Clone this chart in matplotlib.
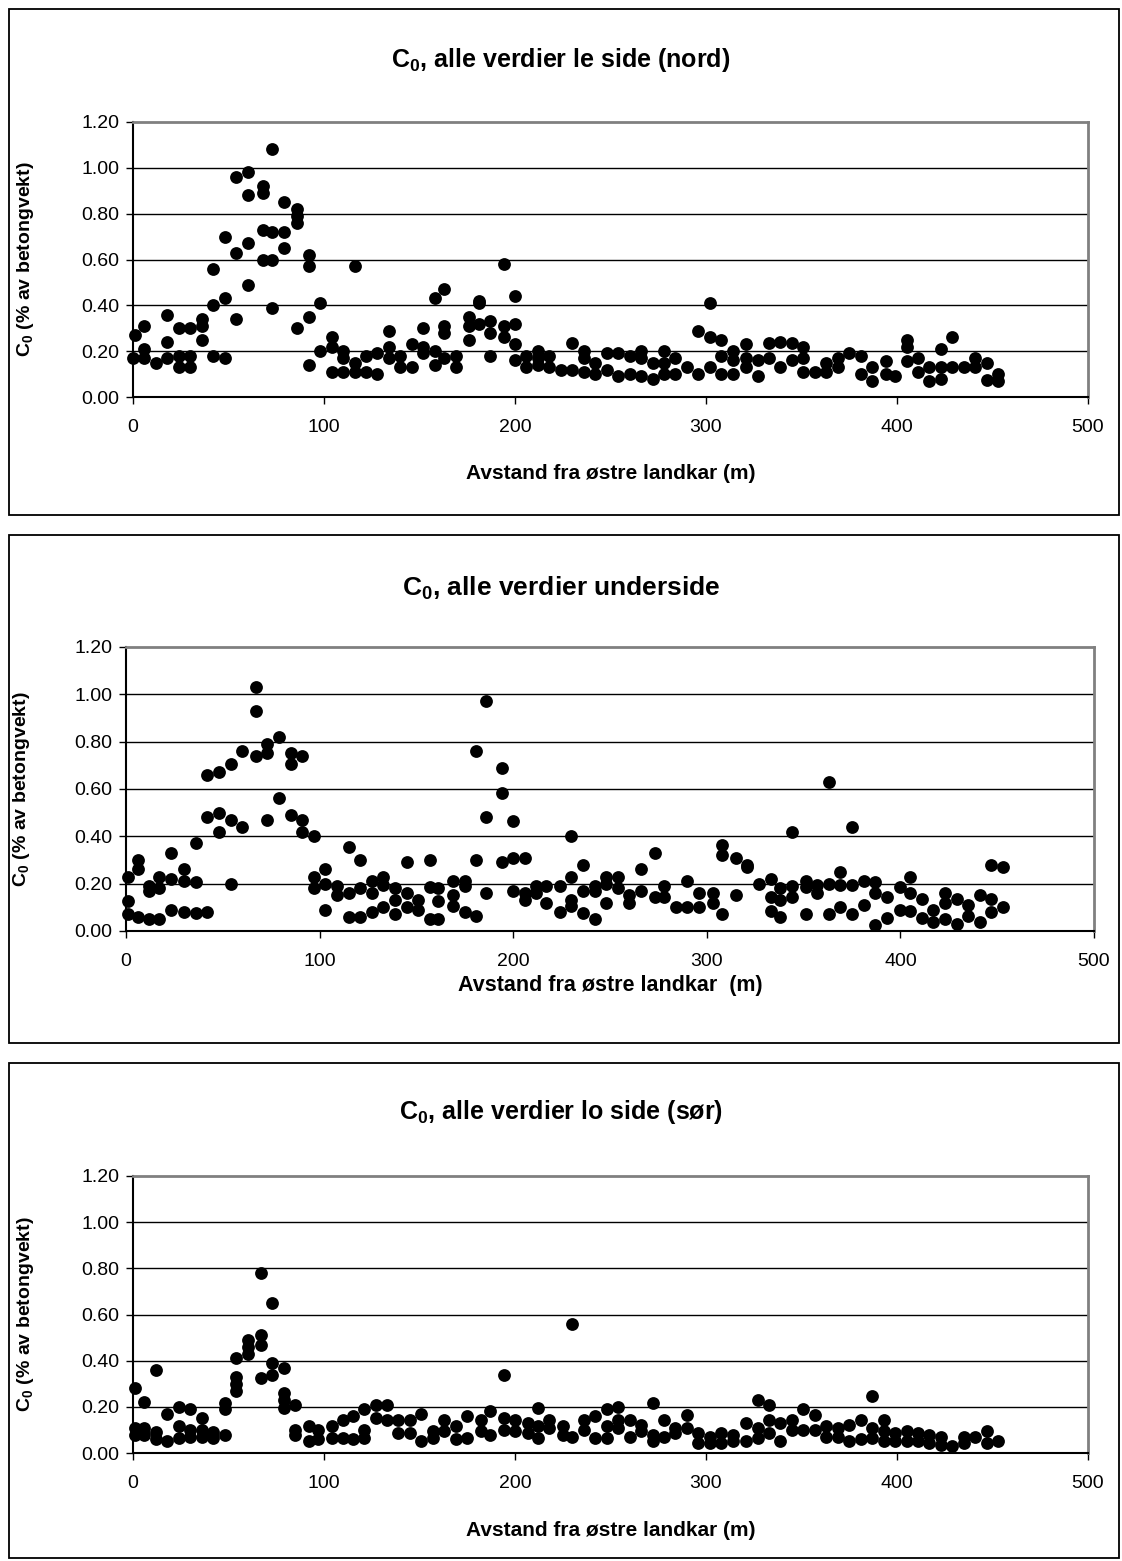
import matplotlib
matplotlib.use("Agg")
import matplotlib.pyplot as plt
from matplotlib.patches import Rectangle

plt.rcParams['font.family'] = ['Liberation Sans', 'DejaVu Sans']
plt.rcParams['mathtext.fontset'] = 'custom'
plt.rcParams['mathtext.rm'] = 'Liberation Sans'
plt.rcParams['mathtext.bf'] = 'Liberation Sans:bold'

# ---------------- data ----------------
nord_x = [1, 0, 6, 6, 6, 12, 18, 18, 18, 24, 24, 24, 30, 30, 30, 36, 36, 36, 42, 42, 42,
          48, 48, 48, 54, 54, 54, 60, 60, 60, 60, 68, 68, 68, 68, 73, 73, 73, 73, 79, 79, 79,
          86, 86, 86, 86, 92, 92, 92, 92, 98, 98, 104, 104, 104, 110, 110, 110, 116, 116, 116,
          122, 122, 128, 128, 134, 134, 134, 140, 140, 146, 146, 152, 152, 152, 158, 158, 158,
          163, 163, 163, 163, 169, 169, 176, 176, 176, 181, 181, 181, 187, 187, 187, 194, 194, 194,
          200, 200, 200, 200, 206, 206, 212, 212, 212, 218, 218, 224, 230, 230, 236, 236, 236,
          242, 242, 248, 248, 254, 254, 260, 260, 266, 266, 266, 272, 272, 278, 278, 278, 284, 284,
          290, 296, 296, 302, 302, 302, 308, 308, 308, 314, 314, 314, 321, 321, 321, 327, 327,
          333, 333, 339, 339, 345, 345, 351, 351, 351, 357, 363, 363, 369, 369, 375, 381, 381,
          387, 387, 394, 394, 399, 405, 405, 405, 411, 411, 417, 417, 423, 423, 423, 429, 429,
          435, 441, 441, 447, 447, 453, 453]
nord_y = [0.27, 0.17, 0.31, 0.21, 0.17, 0.15, 0.36, 0.24, 0.17, 0.30, 0.18, 0.13, 0.30, 0.18, 0.13,
          0.34, 0.31, 0.25, 0.56, 0.40, 0.18, 0.70, 0.43, 0.17, 0.96, 0.63, 0.34, 0.98, 0.88, 0.67, 0.49,
          0.92, 0.89, 0.73, 0.60, 1.08, 0.72, 0.60, 0.39, 0.85, 0.72, 0.65, 0.82, 0.79, 0.76, 0.30,
          0.62, 0.57, 0.35, 0.14, 0.41, 0.20, 0.26, 0.22, 0.11, 0.20, 0.17, 0.11, 0.57, 0.15, 0.11,
          0.18, 0.11, 0.19, 0.10, 0.29, 0.22, 0.17, 0.18, 0.13, 0.23, 0.13, 0.30, 0.22, 0.19,
          0.43, 0.20, 0.14, 0.47, 0.31, 0.28, 0.17, 0.18, 0.13, 0.35, 0.31, 0.25, 0.42, 0.41, 0.32,
          0.33, 0.28, 0.18, 0.58, 0.31, 0.26, 0.44, 0.32, 0.23, 0.16, 0.18, 0.13, 0.20, 0.17, 0.14,
          0.18, 0.13, 0.12, 0.235, 0.12, 0.20, 0.17, 0.11, 0.15, 0.10, 0.19, 0.12, 0.19, 0.09,
          0.18, 0.10, 0.20, 0.17, 0.09, 0.15, 0.08, 0.20, 0.15, 0.10, 0.17, 0.10, 0.13, 0.29, 0.10,
          0.41, 0.26, 0.13, 0.25, 0.18, 0.10, 0.20, 0.16, 0.10, 0.23, 0.17, 0.13, 0.16, 0.09,
          0.235, 0.17, 0.24, 0.13, 0.235, 0.16, 0.22, 0.17, 0.11, 0.11, 0.15, 0.11, 0.17, 0.13,
          0.19, 0.18, 0.10, 0.13, 0.07, 0.155, 0.10, 0.09, 0.25, 0.22, 0.155, 0.17, 0.11, 0.13, 0.07,
          0.21, 0.13, 0.08, 0.26, 0.13, 0.13, 0.17, 0.13, 0.15, 0.075, 0.10, 0.07]

under_x = [1, 1, 1, 6, 6, 6, 12, 12, 12, 17, 17, 17, 23, 23, 23, 30, 30, 30, 36, 36, 36, 42, 42, 42,
           48, 48, 48, 54, 54, 54, 60, 60, 67, 67, 67, 73, 73, 73, 79, 79, 85, 85, 85, 91, 91, 91,
           97, 97, 97, 103, 103, 103, 109, 109, 115, 115, 115, 121, 121, 121, 127, 127, 127,
           133, 133, 133, 139, 139, 139, 145, 145, 145, 151, 151, 157, 157, 157, 161, 161, 161,
           169, 169, 169, 175, 175, 175, 181, 181, 181, 186, 186, 186, 194, 194, 194, 200, 200, 200,
           206, 206, 206, 212, 212, 217, 217, 224, 224, 230, 230, 230, 230, 236, 236, 236,
           242, 242, 242, 248, 248, 248, 254, 254, 260, 260, 266, 266, 273, 273, 278, 278, 284,
           290, 290, 296, 296, 303, 303, 308, 308, 308, 315, 315, 321, 321, 327, 333, 333, 333,
           338, 338, 338, 344, 344, 344, 351, 351, 351, 357, 357, 363, 363, 363, 369, 369, 369,
           375, 375, 375, 381, 381, 387, 387, 387, 393, 393, 400, 400, 405, 405, 405, 411, 411,
           417, 417, 423, 423, 423, 429, 429, 435, 435, 441, 441, 447, 447, 447, 453, 453]
under_y = [0.23, 0.125, 0.07, 0.30, 0.26, 0.06, 0.19, 0.17, 0.05, 0.23, 0.18, 0.05, 0.33, 0.22, 0.09,
           0.26, 0.21, 0.08, 0.37, 0.205, 0.075, 0.66, 0.48, 0.08, 0.67, 0.50, 0.42, 0.705, 0.47, 0.20,
           0.76, 0.44, 1.03, 0.93, 0.74, 0.79, 0.75, 0.47, 0.82, 0.56, 0.75, 0.705, 0.49, 0.74, 0.47, 0.42,
           0.40, 0.23, 0.18, 0.26, 0.20, 0.09, 0.19, 0.15, 0.355, 0.16, 0.06, 0.30, 0.18, 0.06,
           0.21, 0.16, 0.08, 0.23, 0.195, 0.10, 0.18, 0.13, 0.07, 0.29, 0.16, 0.10, 0.13, 0.09,
           0.30, 0.185, 0.05, 0.18, 0.125, 0.05, 0.21, 0.15, 0.105, 0.21, 0.19, 0.08, 0.30, 0.76, 0.065,
           0.97, 0.48, 0.16, 0.69, 0.585, 0.29, 0.465, 0.31, 0.17, 0.31, 0.16, 0.13, 0.19, 0.16,
           0.19, 0.12, 0.19, 0.08, 0.40, 0.23, 0.13, 0.105, 0.28, 0.17, 0.075, 0.19, 0.17, 0.05,
           0.23, 0.20, 0.12, 0.23, 0.18, 0.15, 0.12, 0.26, 0.17, 0.33, 0.145, 0.19, 0.145, 0.10,
           0.21, 0.10, 0.16, 0.10, 0.16, 0.12, 0.365, 0.32, 0.07, 0.31, 0.15, 0.28, 0.27, 0.20,
           0.22, 0.145, 0.085, 0.18, 0.13, 0.06, 0.42, 0.19, 0.145, 0.21, 0.185, 0.07, 0.195, 0.16,
           0.63, 0.20, 0.07, 0.25, 0.195, 0.10, 0.44, 0.195, 0.07, 0.21, 0.11, 0.205, 0.16, 0.025,
           0.145, 0.055, 0.185, 0.09, 0.23, 0.16, 0.085, 0.135, 0.055, 0.09, 0.04, 0.16, 0.12, 0.05,
           0.135, 0.03, 0.11, 0.065, 0.15, 0.04, 0.28, 0.135, 0.08, 0.27, 0.10]

sor_x = [1, 1, 1, 6, 6, 6, 12, 12, 12, 18, 18, 24, 24, 24, 30, 30, 30, 36, 36, 36, 42, 42,
         48, 48, 48, 54, 54, 54, 54, 60, 60, 60, 67, 67, 67, 67, 73, 73, 73, 79, 79, 79, 79,
         85, 85, 85, 92, 92, 97, 97, 104, 104, 110, 110, 115, 115, 121, 121, 121, 127, 127,
         133, 133, 139, 139, 145, 145, 151, 151, 157, 157, 163, 163, 169, 169, 175, 175,
         182, 182, 187, 187, 194, 194, 194, 200, 200, 207, 207, 212, 212, 212, 218, 218,
         225, 225, 230, 230, 236, 236, 242, 242, 248, 248, 248, 254, 254, 254, 260, 260,
         266, 266, 272, 272, 272, 278, 278, 284, 284, 290, 290, 296, 296, 302, 302, 308, 308,
         314, 314, 321, 321, 327, 327, 327, 333, 333, 333, 339, 339, 345, 345, 351, 351,
         357, 357, 363, 363, 369, 369, 375, 375, 381, 381, 387, 387, 387, 393, 393, 393,
         399, 399, 405, 405, 411, 411, 417, 417, 423, 423, 429, 435, 435, 441, 447, 447, 453]
sor_y = [0.28, 0.11, 0.08, 0.22, 0.11, 0.08, 0.36, 0.09, 0.06, 0.17, 0.05, 0.20, 0.115, 0.065,
         0.19, 0.10, 0.07, 0.15, 0.10, 0.07, 0.09, 0.065, 0.215, 0.19, 0.08, 0.41, 0.33, 0.30, 0.27,
         0.49, 0.46, 0.43, 0.78, 0.51, 0.47, 0.325, 0.65, 0.39, 0.34, 0.37, 0.26, 0.23, 0.195,
         0.21, 0.10, 0.08, 0.115, 0.05, 0.10, 0.06, 0.115, 0.065, 0.145, 0.065, 0.16, 0.06,
         0.19, 0.10, 0.065, 0.21, 0.15, 0.21, 0.145, 0.145, 0.085, 0.145, 0.085, 0.17, 0.05,
         0.095, 0.065, 0.145, 0.095, 0.115, 0.06, 0.16, 0.065, 0.145, 0.095, 0.18, 0.08,
         0.34, 0.15, 0.10, 0.145, 0.095, 0.13, 0.085, 0.195, 0.115, 0.065, 0.145, 0.11,
         0.115, 0.08, 0.56, 0.07, 0.145, 0.10, 0.16, 0.065, 0.19, 0.115, 0.065, 0.20, 0.145, 0.11,
         0.145, 0.07, 0.12, 0.095, 0.215, 0.08, 0.05, 0.145, 0.07, 0.11, 0.085, 0.165, 0.11,
         0.085, 0.045, 0.07, 0.045, 0.085, 0.045, 0.08, 0.05, 0.13, 0.05, 0.23, 0.11, 0.065,
         0.21, 0.145, 0.085, 0.13, 0.05, 0.145, 0.10, 0.19, 0.10, 0.165, 0.10, 0.115, 0.07,
         0.11, 0.07, 0.12, 0.05, 0.145, 0.06, 0.245, 0.11, 0.065, 0.145, 0.095, 0.05,
         0.085, 0.05, 0.095, 0.05, 0.085, 0.05, 0.08, 0.045, 0.07, 0.035, 0.03, 0.07, 0.045,
         0.07, 0.095, 0.045, 0.05]

titles = [r'C$_\mathbf{0}$, alle verdier le side (nord)',
          r'C$_\mathbf{0}$, alle verdier underside',
          r'C$_\mathbf{0}$, alle verdier lo side (sør)']
xlabels = ['Avstand fra østre landkar (m)',
           'Avstand fra østre landkar  (m)',
           'Avstand fra østre landkar (m)']
ylabel = r'C$_\mathbf{0}$ (% av betongvekt)'
xticks = [0, 100, 200, 300, 400, 500]
yticks = [0.0, 0.2, 0.4, 0.6, 0.8, 1.0, 1.2]

# ---------------- layout (pixels) ----------------
W, H = 1122, 1561
fig = plt.figure(figsize=(W / 100, H / 100), dpi=100)

def fx(px):
    return px / W

def fy(py):
    return 1 - py / H

panels = [
    dict(box=(9, 515), ax=(133, 1088, 122, 397), ty=60, xl=474, yl=26,
         tsize=18, xsize=15, x=nord_x, y=nord_y),
    dict(box=(535, 1043), ax=(126, 1094, 647, 931), ty=588, xl=986, yl=22,
         tsize=19, xsize=15.5, x=under_x, y=under_y),
    dict(box=(1063, 1558), ax=(133, 1088, 1176, 1453), ty=1112, xl=1530, yl=26,
         tsize=18, xsize=15, x=sor_x, y=sor_y),
]

for i, p in enumerate(panels):
    bt, bb = p['box']
    fig.add_artist(Rectangle((fx(9), fy(bb)), fx(1119) - fx(9), fy(bt) - fy(bb),
                             transform=fig.transFigure, fill=False,
                             edgecolor='black', linewidth=1.3))
    l, r, t, b = p['ax']
    ax = fig.add_axes([fx(l), fy(b), fx(r) - fx(l), fy(t) - fy(b)])
    ax.scatter(p['x'], p['y'], s=85, color='black', zorder=3, linewidths=0, clip_on=False)
    ax.set_xlim(0, 500)
    ax.set_ylim(0, 1.2)
    ax.set_xticks(xticks)
    ax.set_xticklabels([str(v) for v in xticks])
    ax.set_yticks(yticks)
    ax.set_yticklabels([f'{v:.2f}' for v in yticks])
    for yv in yticks[1:-1]:
        ax.axhline(yv, color='black', linewidth=1.0, zorder=1)
    ax.tick_params(axis='both', direction='out', length=5, width=1, color='black',
                   labelsize=14, pad=5)
    ax.tick_params(axis='x', pad=11)
    for side in ('top', 'right'):
        ax.spines[side].set_color('#808080')
        ax.spines[side].set_linewidth(2)
    for side in ('left', 'bottom'):
        ax.spines[side].set_color('black')
        ax.spines[side].set_linewidth(1.5)
    fig.text(0.5, fy(p['ty']), titles[i], ha='center', va='center',
             fontsize=p['tsize'], fontweight='bold')
    fig.text((fx(l) + fx(r)) / 2, fy(p['xl']), xlabels[i], ha='center', va='center',
             fontsize=p['xsize'], fontweight='bold')
    fig.text(fx(p['yl']), (fy(t) + fy(b)) / 2, ylabel, ha='center', va='center',
             rotation=90, fontsize=14, fontweight='bold')

fig.savefig('out.png', dpi=100, facecolor='white')
